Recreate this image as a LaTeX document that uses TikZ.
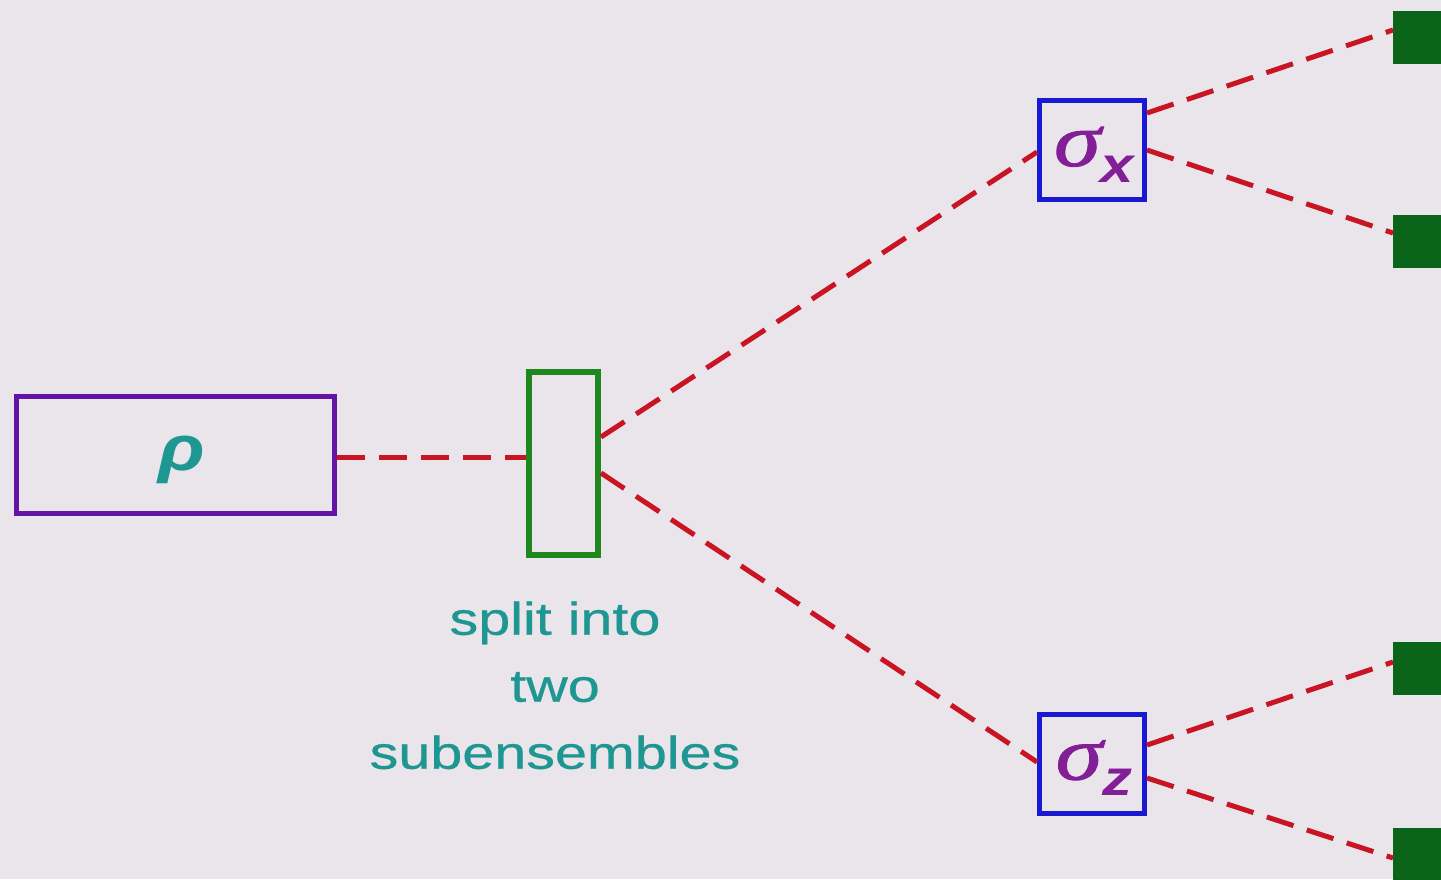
\documentclass[tikz,border=0pt]{standalone}
\usepackage{fontspec}
\setmainfont{Liberation Sans}
\newfontfamily\labfont[FakeStretch=1.25,FakeBold=0.6]{Liberation Sans}
\newfontfamily\subfont[FakeStretch=1.2]{Liberation Sans}
\newfontfamily\rhofont[FakeStretch=1.2]{Liberation Sans}
\newfontfamily\sigfont[FakeStretch=1.25,FakeBold=1.2]{Liberation Serif}
\usetikzlibrary{calc}
\definecolor{bg}{RGB}{233,229,235}
\definecolor{rhoframe}{RGB}{100,20,165}
\definecolor{tealtxt}{RGB}{30,150,145}
\definecolor{dashred}{RGB}{200,20,35}
\definecolor{splitgreen}{RGB}{30,135,30}
\definecolor{measblue}{RGB}{25,25,210}
\definecolor{sigpurple}{RGB}{130,30,150}
\definecolor{outgreen}{RGB}{10,100,25}
\tikzset{
  rhobox/.style={draw=rhoframe, line width=2.5pt, minimum width=159pt, minimum height=58.5pt, inner sep=0pt, text height=25pt, text depth=10pt},
  splitbox/.style={draw=splitgreen, line width=3pt, minimum width=34.5pt, minimum height=91.5pt, inner sep=0pt},
  measbox/.style={draw=measblue, line width=2.5pt, minimum width=52.5pt, minimum height=49.5pt, inner sep=0pt, text height=24pt, text depth=8pt},
  outsq/.style={fill=outgreen, draw=none, minimum width=26.5pt, minimum height=26.5pt, inner sep=0pt},
  conn/.style={draw=dashred, line width=2.5pt, dash pattern=on 14pt off 7pt},
  labeltext/.style={text=tealtxt, font=\labfont\fontsize{23pt}{33.5pt}\selectfont, align=center, inner sep=0pt},
}
\newcommand{\sigmalabel}[1]{\hspace*{2pt}{\sigfont\itshape\fontsize{38pt}{38pt}\selectfont σ}{\subfont\bfseries\itshape\fontsize{25pt}{25pt}\selectfont\raisebox{-8pt}{#1}}}
\begin{document}
\begin{tikzpicture}[x=0.5pt,y=-0.5pt]
\useasboundingbox (0,0) rectangle (1441,879);
\fill[bg] (0,0) rectangle (1441,879);
\clip (0,0) rectangle (1441,879);

\node[rhobox] (rho) at (175.5,455) {\hspace*{6pt}{\rhofont\bfseries\itshape\fontsize{32pt}{32pt}\selectfont\color{tealtxt}ρ}};
\node[splitbox] (split) at (563.5,463.5) {};
\node[labeltext, anchor=north] (lbl) at (555,601) {split into\\two\\subensembles};
\node[measbox, text=sigpurple] (sx) at (1092,150) {\sigmalabel{x}};
\node[measbox, text=sigpurple] (sz) at (1092,763.5) {\sigmalabel{z}};
\node[outsq, anchor=west] (q1) at (1393,37.5) {};
\node[outsq, anchor=west] (q2) at (1393,241.5) {};
\node[outsq, anchor=west] (q3) at (1393,668) {};
\node[outsq, anchor=west] (q4) at (1393,854.5) {};

\draw[conn] ($(rho.east)+(0,2)$) -- ($(rho.east -| split.west)+(0,2)$);
\draw[conn] ($(split.east)+(0,-26.5)$) -- ($(sx.west)+(0,2)$);
\draw[conn] ($(split.east)+(0,9.5)$) -- ($(sz.west)+(0,-1.5)$);
\draw[conn] ($(sx.east)+(0,-37)$) -- ($(q1.west)+(0,-7.5)$);
\draw[conn] (sx.east) -- ($(q2.west)+(0,-8.5)$);
\draw[conn] ($(sz.east)+(0,-18.5)$) -- ($(q3.west)+(0,-6)$);
\draw[conn] ($(sz.east)+(0,14.5)$) -- ($(q4.west)+(0,3.5)$);
\end{tikzpicture}
\end{document}
